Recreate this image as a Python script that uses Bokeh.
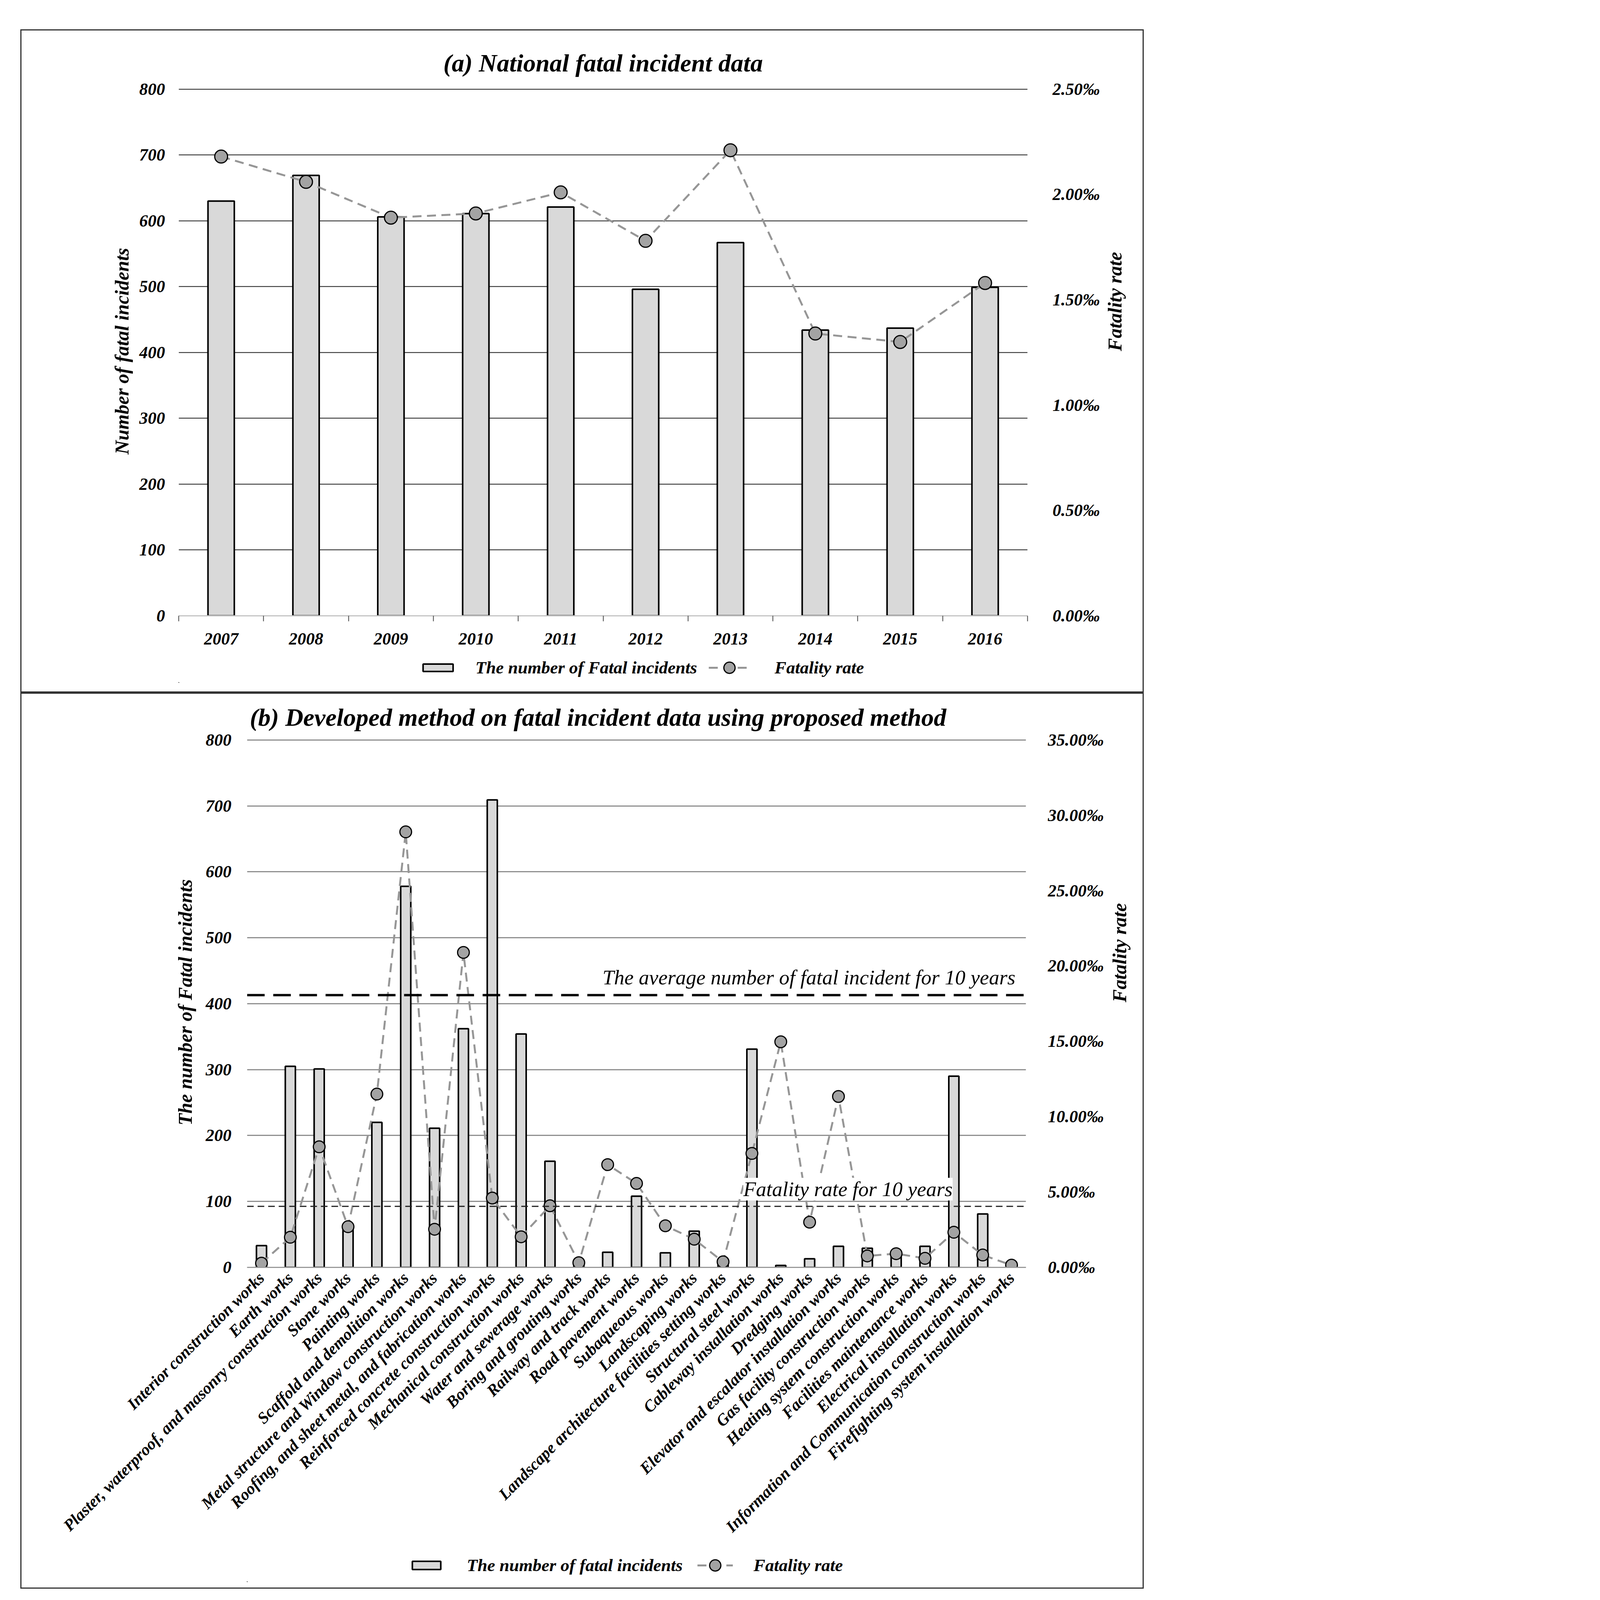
import numpy as np
from bokeh.plotting import figure
from bokeh.models import (Range1d, LinearAxis, FixedTicker, PrintfTickFormatter,
                          Legend, LegendItem, Label, Span, Spacer)
from bokeh.layouts import column
from bokeh.embed import file_html
from bokeh.resources import INLINE

# ---------------- data ----------------
years = ["2007", "2008", "2009", "2010", "2011", "2012", "2013", "2014", "2015", "2016"]
national_fatal = [630, 669, 606, 611, 621, 496, 567, 434, 437, 499]
national_rate = [2.18, 2.06, 1.89, 1.91, 2.01, 1.78, 2.21, 1.34, 1.30, 1.58]

work_types = [
    "Interior construction works",
    "Earth works",
    "Plaster, waterproof, and masonry construction works",
    "Stone works",
    "Painting works",
    "Scaffold and demolition works",
    "Metal structure and Window construction works",
    "Roofing, and sheet metal, and fabrication works",
    "Reinforced concrete construction works",
    "Mechanical construction works",
    "Water and sewerage works",
    "Boring and grouting works",
    "Railway and track works",
    "Road pavement works",
    "Subaqueous works",
    "Landscaping works",
    "Landscape architecture facilities setting works",
    "Structural steel works",
    "Cableway installation works",
    "Dredging works",
    "Elevator and escalator installation works",
    "Gas facility construction works",
    "Heating system construction works",
    "Facilities maintenance works",
    "Electrical installation works",
    "Information and Communication construction works",
    "Firefighting system installation works",
]
work_fatal = [33, 305, 301, 62, 220, 578, 211, 362, 709, 354, 161, 6, 23, 108, 22, 55,
              10, 331, 3, 13, 32, 29, 21, 32, 290, 81, 1]
work_rate = [0.28, 2.0, 8.0, 2.7, 11.5, 28.9, 2.53, 20.9, 4.6, 2.03, 4.09, 0.31, 6.82,
             5.57, 2.76, 1.87, 0.37, 7.56, 14.97, 3.0, 11.34, 0.76, 0.91, 0.6, 2.33,
             0.82, 0.15]
avg_fatal_10y = 413
avg_rate_10y = 4.05

left_ticks_a = [0, 100, 200, 300, 400, 500, 600, 700, 800]
right_ticks_a = [0, 0.5, 1.0, 1.5, 2.0, 2.5]
left_ticks_b = [0, 100, 200, 300, 400, 500, 600, 700, 800]
right_ticks_b = [0, 5, 10, 15, 20, 25, 30, 35]

# global size factor (all pixel sizes are multiplied by it)
S = 0.72
# a little head-room above the top tick so that its grid line is not clipped
Y_PAD = 1.005
TOP_GAIN = 7  # px of frame added on top for that head-room


def s(v):
    return int(round(v * S))


def px(v):
    return f"{s(v)}px"


FONT = "Liberation Serif"
BAR_FILL = "#d9d9d9"
DOT_FILL = "#a3a3a3"
LINE_GRAY = "#969696"
BORDER = {"border": f"{max(2, s(4))}px solid #333333"}
TICK_SIZE = 61
W = 3986

BAR_STYLE = dict(fill_color=BAR_FILL, line_color="black", line_width=s(5))
LINE_STYLE = dict(line_color=LINE_GRAY, line_width=s(7), line_dash=f"{s(32)} {s(20)}")
DOT_STYLE = dict(fill_color=DOT_FILL, line_color="black", line_width=s(4))


def style_text_axis(ax, size=TICK_SIZE):
    ax.major_label_text_font = FONT
    ax.major_label_text_font_size = px(size)
    ax.major_label_text_font_style = "bold italic"
    ax.major_label_text_color = "black"
    ax.axis_label_text_font = FONT
    ax.axis_label_text_font_style = "bold italic"
    ax.axis_label_text_font_size = px(69)
    ax.axis_label_text_color = "black"


def legend_strip(height, left, right, xs, counts, rates, items):
    """Strip under a chart that holds its legend.  The series are drawn again here,
    far outside the strip's visible range, only so that the legend has glyphs to show."""
    lf = figure(width=s(W), height=s(height), x_range=Range1d(1e5, 1e5 + 1),
                y_range=Range1d(1e5, 1e5 + 1),
                output_backend="svg", toolbar_location=None, x_axis_location=None,
                y_axis_location=None, min_border_left=s(left), min_border_right=s(right),
                min_border_top=0, min_border_bottom=0)
    lf.outline_line_color = None
    lf.grid.visible = False
    bar_r = lf.vbar(x=xs, top=counts, width=0.3, **BAR_STYLE)
    line_r = lf.line(xs, rates, **LINE_STYLE)
    dot_r = lf.scatter(xs, rates, size=s(40), **DOT_STYLE)
    for label, kind, margin, gw, gh, standoff in items:
        rs = [bar_r] if kind == "bar" else [line_r, dot_r]
        lg = Legend(items=[LegendItem(label=label, renderers=rs, index=0)],
                    location="center_left",
                    margin=s(margin), glyph_width=s(gw), glyph_height=s(gh),
                    label_standoff=s(standoff), padding=0, border_line_color=None,
                    background_fill_alpha=0, label_text_font=FONT,
                    label_text_font_size=px(63), label_text_font_style="bold italic",
                    label_text_color="black")
        lf.add_layout(lg)
    return lf


# ---------------- panel (a) ----------------
xa = list(np.arange(len(years)) + 1)
pa = figure(width=s(W), height=s(2211), x_range=Range1d(0.5, len(years) + 0.5),
            y_range=Range1d(0, left_ticks_a[-1] * Y_PAD), output_backend="svg",
            toolbar_location=None,
            min_border_left=s(558), min_border_right=s(410),
            min_border_top=s(208) - TOP_GAIN,
            min_border_bottom=s(130), title="(a) National fatal incident data")
pa.outline_line_color = None
pa.title.text_font = FONT
pa.title.text_font_size = px(89)
pa.title.text_font_style = "bold italic"
pa.title.text_color = "black"
pa.title.align = "center"
pa.title.standoff = s(60) + TOP_GAIN
pa.xgrid.grid_line_color = None
pa.ygrid.ticker = FixedTicker(ticks=left_ticks_a[1:])
pa.ygrid.grid_line_color = "#1a1a1a"
pa.ygrid.grid_line_width = s(3)

pa.extra_y_ranges = {"rate": Range1d(0, right_ticks_a[-1] * Y_PAD)}

pa.vbar(x=xa, top=national_fatal, width=0.31, **BAR_STYLE)
pa.line(xa, national_rate, y_range_name="rate", **LINE_STYLE)
pa.scatter(xa, national_rate, y_range_name="rate", size=s(46), **DOT_STYLE)

ya = pa.yaxis[0]
ya.ticker = FixedTicker(ticks=left_ticks_a)
ya.axis_label = "Number of fatal incidents"
style_text_axis(ya)
ya.axis_line_color = None
ya.major_tick_line_color = None
ya.minor_tick_line_color = None
ya.major_label_standoff = s(40)
ya.axis_label_standoff = s(20)

ra = LinearAxis(y_range_name="rate", ticker=FixedTicker(ticks=right_ticks_a),
                formatter=PrintfTickFormatter(format="%.2f‰"), axis_label="Fatality rate")
style_text_axis(ra)
ra.axis_line_color = None
ra.major_tick_line_color = None
ra.minor_tick_line_color = None
ra.major_label_standoff = s(80)
ra.axis_label_standoff = s(48)
try:
    ra.axis_label_orientation = np.pi / 2
except Exception:
    pass
pa.add_layout(ra, "right")

xax = pa.xaxis[0]
xax.ticker = FixedTicker(ticks=xa, minor_ticks=list(np.arange(len(years) + 1) + 0.5))
xax.major_label_overrides = {int(x): y for x, y in zip(xa, years)}
style_text_axis(xax)
xax.axis_line_color = "#c4c4c4"
xax.axis_line_width = s(4)
xax.major_tick_line_color = None
xax.major_tick_out = 0
xax.major_tick_in = 0
xax.minor_tick_line_color = "#444444"
xax.minor_tick_line_width = s(3)
xax.minor_tick_out = s(20)
xax.minor_tick_in = 0
xax.major_label_standoff = s(42)

la = legend_strip(108, 558, 410, xa, national_fatal, national_rate, [
    ("The number of Fatal incidents", "bar", 855, 134, 34, 67),
    ("Fatality rate", "rate", 1885, 147, 100, 88),
])

col_a = column(pa, la, Spacer(width=s(W), height=s(30)))
col_a.styles = BORDER
col_a.margin = (s(104), 0, 0, s(72))

# ---------------- panel (b) ----------------
xb = list(np.arange(len(work_types)) + 1)
pb = figure(width=s(W), height=s(3039), x_range=Range1d(0.5, len(work_types) + 0.5),
            y_range=Range1d(0, left_ticks_b[-1] * Y_PAD), output_backend="svg",
            toolbar_location=None,
            min_border_left=s(802), min_border_right=s(415),
            min_border_top=s(164) - TOP_GAIN,
            min_border_bottom=s(1000),
            title="(b) Developed method on fatal incident data using proposed method")
pb.outline_line_color = None
pb.title.text_font = FONT
pb.title.text_font_size = px(89)
pb.title.text_font_style = "bold italic"
pb.title.text_color = "black"
pb.title.align = "left"
pb.title.offset = s(10)
pb.title.standoff = s(34) + TOP_GAIN
pb.xgrid.grid_line_color = None
pb.ygrid.ticker = FixedTicker(ticks=left_ticks_b)
pb.ygrid.grid_line_color = "#8f8f8f"
pb.ygrid.grid_line_width = s(4)

pb.extra_y_ranges = {"rate": Range1d(0, right_ticks_b[-1] * Y_PAD)}

pb.vbar(x=xb, top=work_fatal, width=0.35, **BAR_STYLE)

pb.add_layout(Span(location=avg_fatal_10y, dimension="width", line_color="black",
                   line_width=s(8), line_dash=f"{s(62)} {s(30)}"))
pb.add_layout(Span(location=avg_rate_10y, dimension="width", y_range_name="rate",
                   line_color="#222222", line_width=s(4), line_dash=f"{s(24)} {s(14)}"))

pb.line(xb, work_rate, y_range_name="rate", **LINE_STYLE)
pb.scatter(xb, work_rate, y_range_name="rate", size=s(42), **DOT_STYLE)

pb.add_layout(Label(x=len(work_types) + 0.5, y=avg_fatal_10y, x_offset=-s(38),
                    y_offset=s(62),
                    text="The average number of fatal incident for 10 years",
                    text_align="right", text_baseline="middle", text_font=FONT,
                    text_font_size=px(74), text_font_style="italic", text_color="black"))
pb.add_layout(Label(x=len(work_types) * 0.79, y=avg_rate_10y, y_range_name="rate",
                    y_offset=s(61), text="Fatality rate for 10 years",
                    text_align="center", text_baseline="middle", text_font=FONT,
                    text_font_size=px(73), text_font_style="italic", text_color="black",
                    background_fill_color="white"))

yb = pb.yaxis[0]
yb.ticker = FixedTicker(ticks=left_ticks_b)
yb.axis_label = "The number of Fatal incidents"
style_text_axis(yb)
yb.axis_line_color = None
yb.major_tick_line_color = None
yb.minor_tick_line_color = None
yb.major_label_standoff = s(47)
yb.axis_label_standoff = s(30)

rb = LinearAxis(y_range_name="rate", ticker=FixedTicker(ticks=right_ticks_b),
                formatter=PrintfTickFormatter(format="%.2f‰"), axis_label="Fatality rate")
style_text_axis(rb)
rb.axis_line_color = None
rb.major_tick_line_color = None
rb.minor_tick_line_color = None
rb.major_label_standoff = s(69)
rb.axis_label_standoff = s(52)
try:
    rb.axis_label_orientation = np.pi / 2
except Exception:
    pass
pb.add_layout(rb, "right")

xbx = pb.xaxis[0]
xbx.ticker = FixedTicker(ticks=xb)
xbx.major_label_overrides = {int(x): w for x, w in zip(xb, work_types)}
style_text_axis(xbx, size=58)
xbx.major_label_orientation = np.pi / 4
xbx.axis_line_color = "#9a9a9a"
xbx.axis_line_width = s(4)
xbx.major_tick_line_color = None
xbx.minor_tick_line_color = None
xbx.major_tick_out = 0
xbx.major_label_standoff = s(28)

lb = legend_strip(120, 802, 415, xb, work_fatal, work_rate, [
    ("The number of fatal incidents", "bar", 575, 126, 36, 80),
    ("Fatality rate", "rate", 1602, 127, 100, 74),
])

col_b = column(pb, lb, Spacer(width=s(W), height=s(19)))
col_b.styles = BORDER
col_b.margin = (0, 0, 0, s(72))

open("out.html", "w").write(file_html([col_a, col_b], INLINE))
